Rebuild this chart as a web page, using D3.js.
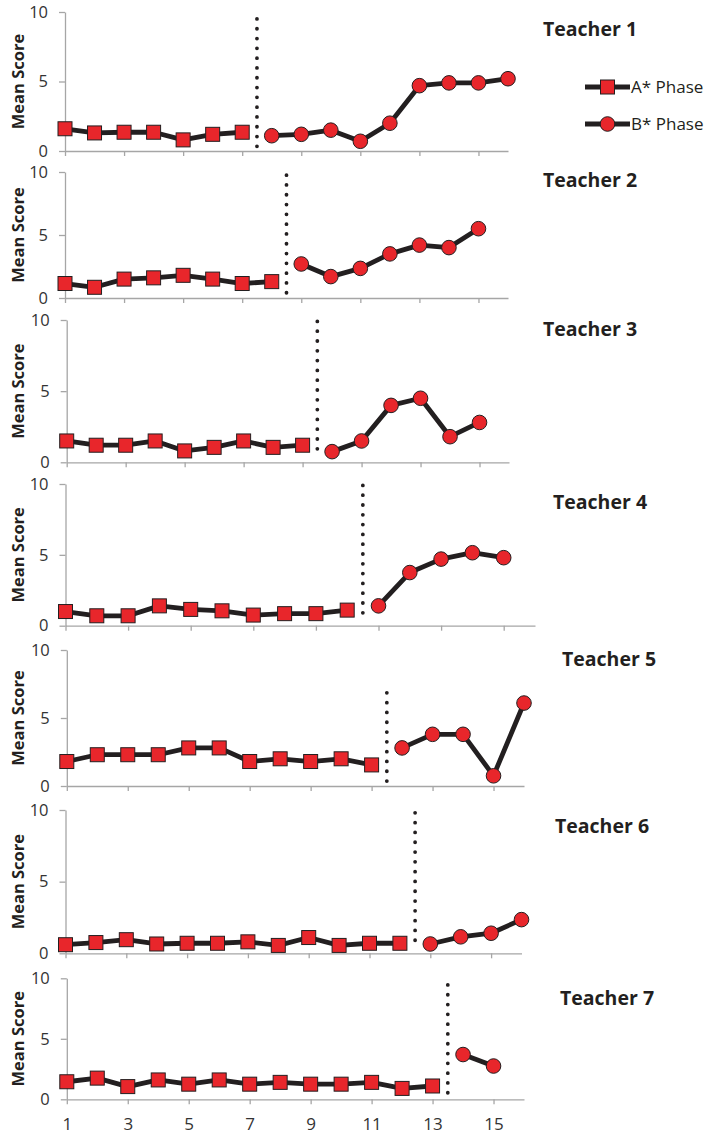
<!DOCTYPE html>
<html>
<head>
<meta charset="utf-8">
<script src="https://cdn.jsdelivr.net/npm/d3@7"></script>
<style>
  body { margin: 0; background: #fff; }
  text { font-family: "Open Sans", sans-serif; }
</style>
</head>
<body>
<div id="chart-area"></div>
<script>
// Teacher names, one panel each
const teachers = ['Teacher 1', 'Teacher 2', 'Teacher 3', 'Teacher 4', 'Teacher 5', 'Teacher 6', 'Teacher 7'];

// A* phase (baseline) mean scores, session 1 onwards
const phaseA = [
  [1.6, 1.3, 1.35, 1.35, 0.8, 1.2, 1.35],
  [1.15, 0.85, 1.5, 1.6, 1.8, 1.5, 1.15, 1.3],
  [1.5, 1.2, 1.2, 1.5, 0.8, 1.05, 1.5, 1.05, 1.2],
  [1.0, 0.7, 0.7, 1.4, 1.15, 1.05, 0.75, 0.85, 0.85, 1.1],
  [1.8, 2.3, 2.3, 2.3, 2.8, 2.8, 1.8, 2.0, 1.8, 2.0, 1.55],
  [0.6, 0.75, 0.95, 0.65, 0.7, 0.7, 0.8, 0.55, 1.1, 0.55, 0.7, 0.7],
  [1.45, 1.75, 1.05, 1.6, 1.25, 1.6, 1.25, 1.4, 1.25, 1.25, 1.4, 0.9, 1.1]
];

// B* phase mean scores, continuing right after the A* sessions
const phaseB = [
  [1.1, 1.2, 1.5, 0.7, 2.0, 4.7, 4.9, 4.9, 5.2],
  [2.7, 1.7, 2.35, 3.5, 4.2, 4.0, 5.5],
  [0.75, 1.5, 4.0, 4.5, 1.8, 2.8],
  [1.4, 3.75, 4.7, 5.15, 4.8],
  [2.8, 3.8, 3.8, 0.75, 6.1],
  [0.65, 1.15, 1.4, 2.35],
  [3.7, 2.75]
];

// Top of the dotted phase-change line, in score units
const phaseLineTop = [9.5, 9.75, 9.9, 9.9, 6.85, 9.8, 9.45];

// Axis ticks
const xTicks = [1, 3, 5, 7, 9, 11, 13, 15];
const yTicks = [0, 5, 10];
const xDomain = [1, 16];
const yDomain = [0, 10];

const legendItems = ['A* Phase', 'B* Phase'];

// Panel frames (pixel layout)
const panels = [
  { left: 65,   right: 508,   top: 12,    bottom: 151,    titleX: 543, titleY: 36 },
  { left: 65,   right: 508,   top: 172,   bottom: 298,    titleX: 543, titleY: 187 },
  { left: 66.7, right: 509,   top: 320,   bottom: 462.3,  titleX: 543, titleY: 336 },
  { left: 65.5, right: 535,   top: 484,   bottom: 625.7,  titleX: 553, titleY: 509 },
  { left: 66.8, right: 524,   top: 650,   bottom: 786,    titleX: 562, titleY: 666 },
  { left: 65.5, right: 521.5, top: 810,   bottom: 953.3,  titleX: 555, titleY: 833 },
  { left: 66.8, right: 524,   top: 978.3, bottom: 1099.3, titleX: 560, titleY: 1005 }
];

const ink = '#231f20';
const red = '#e8262b';
const axisGrey = '#a6a6a6';

let svg = d3.select('#chart-area')
  .append('svg')
    .attr('width', 708)
    .attr('height', 1136);

function drawSquare(g, cx, cy) {
  g.append('rect')
    .attr('x', cx - 7)
    .attr('y', cy - 7)
    .attr('width', 14)
    .attr('height', 14)
    .attr('fill', red)
    .attr('stroke', ink)
    .attr('stroke-width', 1);
}

function drawCircle(g, cx, cy) {
  g.append('circle')
    .attr('cx', cx)
    .attr('cy', cy)
    .attr('r', 7.3)
    .attr('fill', red)
    .attr('stroke', ink)
    .attr('stroke-width', 1);
}

teachers.forEach(function(name, i) {
  let p = panels[i];
  let g = svg.append('g');

  let x = d3.scaleLinear().domain(xDomain).range([p.left, p.right]);
  let y = d3.scaleLinear().domain(yDomain).range([p.bottom, p.top]);

  // X axis
  let xAxisCall = d3.axisBottom(x)
    .tickValues(xTicks)
    .tickSize(5)
    .tickSizeOuter(0)
    .tickPadding(14)
    .tickFormat(i === teachers.length - 1 ? d3.format('d') : function() { return ''; });
  let xAxis = g.append('g')
    .attr('transform', 'translate(0,' + p.bottom + ')')
    .call(xAxisCall);

  // Y axis
  let yAxisCall = d3.axisLeft(y)
    .tickValues(yTicks)
    .tickSize(6)
    .tickSizeOuter(0)
    .tickPadding(11);
  let yAxis = g.append('g')
    .attr('transform', 'translate(' + p.left + ',0)')
    .call(yAxisCall);

  [xAxis, yAxis].forEach(function(ax) {
    ax.select('.domain').attr('stroke', axisGrey).attr('stroke-width', 1.3);
    ax.selectAll('.tick line').attr('stroke', axisGrey).attr('stroke-width', 1.3);
    ax.selectAll('.tick text')
      .attr('fill', '#333')
      .attr('font-family', '"Open Sans", sans-serif');
  });
  yAxis.selectAll('.tick text').attr('font-size', '16.5px');
  xAxis.selectAll('.tick text').attr('font-size', '17px');

  // Y label
  g.append('text')
    .attr('transform', 'translate(23.5,' + ((p.top + p.bottom) / 2) + ') rotate(-90)')
    .attr('text-anchor', 'middle')
    .attr('font-size', '16.5px')
    .attr('font-weight', 'bold')
    .attr('fill', ink)
    .text('Mean Score');

  // Title
  g.append('text')
    .attr('x', p.titleX)
    .attr('y', p.titleY)
    .attr('font-size', '19.5px')
    .attr('font-weight', 'bold')
    .attr('fill', ink)
    .text(name);

  // Phase change line
  let nA = phaseA[i].length;
  g.append('line')
    .attr('x1', x(nA + 0.5))
    .attr('x2', x(nA + 0.5))
    .attr('y1', y(phaseLineTop[i]))
    .attr('y2', y(0.3))
    .attr('stroke', ink)
    .attr('stroke-width', 3.8)
    .attr('stroke-linecap', 'round')
    .attr('stroke-dasharray', '0,9.8');

  let line = d3.line()
    .x(function(d) { return x(d.session); })
    .y(function(d) { return y(d.score); });

  let aData = phaseA[i].map(function(v, k) { return { session: k + 1, score: v }; });
  let bData = phaseB[i].map(function(v, k) { return { session: nA + k + 1, score: v }; });

  [aData, bData].forEach(function(data) {
    g.append('path')
      .datum(data)
      .attr('d', line)
      .attr('fill', 'none')
      .attr('stroke', ink)
      .attr('stroke-width', 4.8)
      .attr('stroke-linejoin', 'round');
  });

  aData.forEach(function(d) { drawSquare(g, x(d.session), y(d.score)); });
  bData.forEach(function(d) { drawCircle(g, x(d.session), y(d.score)); });
});

// Legend
let legend = svg.append('g').attr('transform', 'translate(585,87)');
legendItems.forEach(function(label, i) {
  let row = legend.append('g').attr('transform', 'translate(0,' + (i * 37) + ')');
  row.append('line')
    .attr('x1', 0).attr('x2', 45)
    .attr('stroke', ink)
    .attr('stroke-width', 4.8);
  if (i === 0) { drawSquare(row, 22.5, 0); } else { drawCircle(row, 22.5, 0); }
  row.append('text')
    .attr('x', 46)
    .attr('y', 6)
    .attr('font-size', '17px')
    .attr('fill', ink)
    .text(label);
});
</script>
</body>
</html>
